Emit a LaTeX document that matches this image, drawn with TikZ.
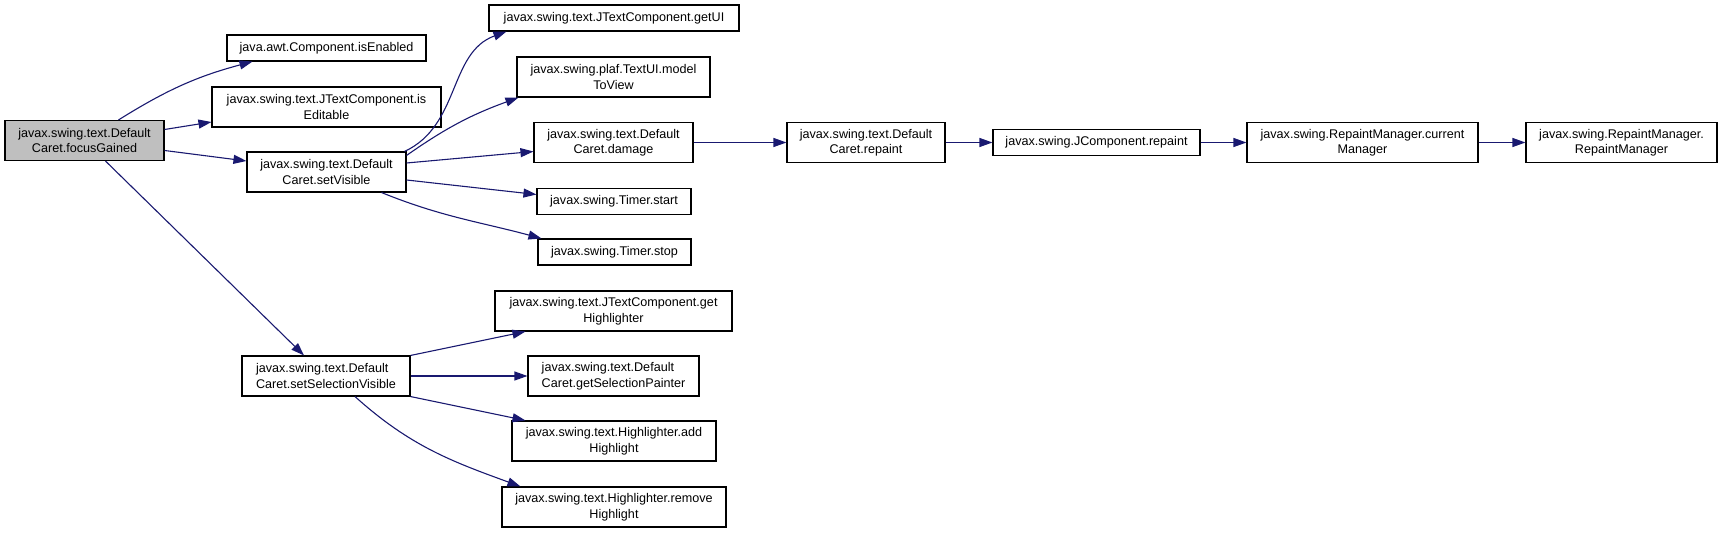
\documentclass[tikz,border=0pt]{standalone}
\usepackage{fontspec}
\setmainfont{Liberation Sans}
\usetikzlibrary{arrows.meta}
\definecolor{edgeblue}{RGB}{25,25,112}
\definecolor{callgray}{RGB}{191,191,191}

\begin{document}
\begin{tikzpicture}[
  x=1pt, y=1pt,
  fn/.style={draw=black, fill=white, line width=1.1pt, inner sep=0pt, minimum height=40pt, align=center, font=\fontsize{12.6}{15.5}\selectfont},
  fn1/.style={fn, minimum height=26pt},
  edge/.style={draw=edgeblue, line width=1.1pt, -{Triangle[length=13pt,width=9pt]}}
]
  \useasboundingbox (0,0) rectangle (1723,533);

  \node[fn, fill=callgray, minimum width=159pt] (fg) at (84.5,392.5) {javax.swing.text.Default\\Caret.focusGained};
  \node[fn1, minimum width=199pt] (en) at (326.5,485) {java.awt.Component.isEnabled};
  \node[fn, minimum width=229pt] (ed) at (326.5,426) {javax.swing.text.JTextComponent.is\\Editable};
  \node[fn, minimum width=159pt] (sv) at (326.5,361) {javax.swing.text.Default\\Caret.setVisible};
  \node[fn, minimum width=168pt, align=left] (ss) at (326,157) {javax.swing.text.Default\\Caret.setSelectionVisible};

  \node[fn1, minimum width=250pt] (ui) at (614,515) {javax.swing.text.JTextComponent.getUI};
  \node[fn, minimum width=193pt] (mv) at (613.5,456) {javax.swing.plaf.TextUI.model\\ToView};
  \node[fn, minimum width=159pt] (dm) at (613.5,390.5) {javax.swing.text.Default\\Caret.damage};
  \node[fn1, minimum width=154pt] (ts) at (614,331.5) {javax.swing.Timer.start};
  \node[fn1, minimum width=153pt] (tp) at (614.5,281) {javax.swing.Timer.stop};
  \node[fn, minimum width=237pt] (gh) at (613.5,222) {javax.swing.text.JTextComponent.get\\Highlighter};
  \node[fn, minimum width=171pt, align=left] (gp) at (613.5,157) {javax.swing.text.Default\\Caret.getSelectionPainter};
  \node[fn, minimum width=204pt] (ah) at (614,92) {javax.swing.text.Highlighter.add\\Highlight};
  \node[fn, minimum width=224pt] (rh) at (614,26) {javax.swing.text.Highlighter.remove\\Highlight};

  \node[fn, minimum width=158pt] (rp) at (866,390.5) {javax.swing.text.Default\\Caret.repaint};
  \node[fn1, minimum width=207pt] (jc) at (1096.5,390.5) {javax.swing.JComponent.repaint};
  \node[fn, minimum width=231pt] (cm) at (1362.5,390.5) {javax.swing.RepaintManager.current\\Manager};
  \node[fn, minimum width=191pt] (rm) at (1621.5,390.5) {javax.swing.RepaintManager.\\RepaintManager};

  \draw[edge] ([xshift=34pt]fg.north) to[out=32,in=195] ([xshift=-74pt]en.south);
  \draw[edge] ([yshift=11pt]fg.east) -- ([yshift=-15pt]ed.west);
  \draw[edge] ([yshift=-10pt]fg.east) -- ([yshift=11pt]sv.west);
  \draw[edge] ([xshift=21pt]fg.south) -- ([xshift=-22pt]ss.north);

  \draw[edge] ([xshift=-2pt]sv.north east) to[out=25,in=200] ([xshift=18pt]ui.south west);
  \draw[edge] ([yshift=-4pt]sv.north east) to[out=35,in=200] ([xshift=2pt]mv.south west);
  \draw[edge] ([yshift=9pt]sv.east) -- ([yshift=-9pt]dm.west);
  \draw[edge] ([yshift=-8pt]sv.east) -- ([yshift=7pt]ts.west);
  \draw[edge] ([xshift=55pt]sv.south) to[out=-22,in=165] ([xshift=4pt]tp.north west);

  \draw[edge] (dm) -- (rp);
  \draw[edge] (rp) -- (jc);
  \draw[edge] (jc) -- (cm);
  \draw[edge] (cm) -- (rm);

  \draw[edge] (ss.north east) -- ([xshift=31pt]gh.south west);
  \draw[edge] (ss) -- (gp);
  \draw[edge] (ss.south east) -- ([xshift=14pt]ah.north west);
  \draw[edge] ([xshift=29pt]ss.south) to[out=-42,in=160] ([xshift=19pt]rh.north west);

\end{tikzpicture}
\end{document}
